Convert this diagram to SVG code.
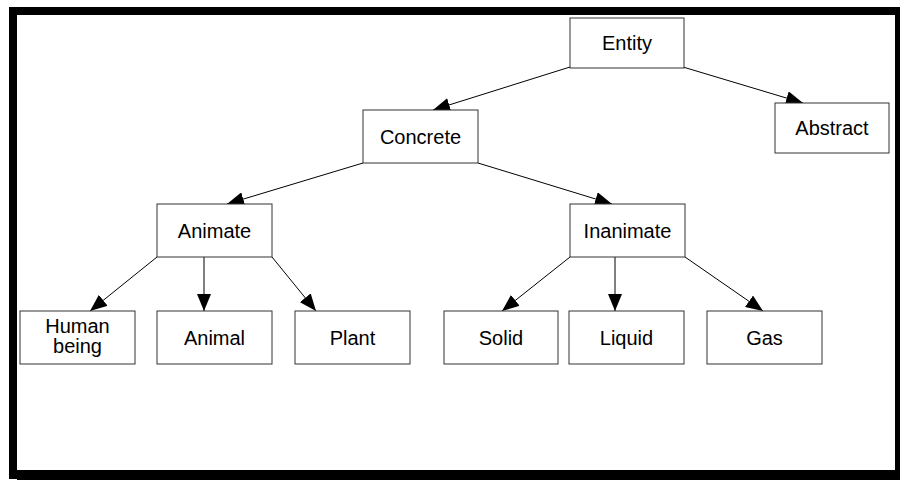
<svg xmlns="http://www.w3.org/2000/svg" width="900" height="480" viewBox="0 0 900 480">
<style>
.box{fill:#fff;stroke:#333;stroke-width:1}
.lbl{font-family:"Liberation Sans",Arial,sans-serif;font-size:20px;fill:#000;text-anchor:middle}
.conn{stroke:#000;stroke-width:1;fill:none;marker-end:url(#arr)}
</style>
<defs>
<marker id="arr" viewBox="0 0 17 14" refX="17" refY="7" markerWidth="17" markerHeight="14" markerUnits="userSpaceOnUse" orient="auto">
<path d="M0,0 L17,7 L0,14 Z" fill="#000"/>
</marker>
</defs>
<rect width="900" height="480" fill="#fff"/>
<g id="frame" fill="#000">
<rect x="9" y="7" width="891" height="8"/>
<rect x="9" y="7" width="8" height="472"/>
<rect x="895" y="7" width="5" height="473"/>
<rect x="17" y="470" width="883" height="10"/>
</g>
<g id="connectors">
<line class="conn" x1="570" y1="67" x2="433" y2="110"/>
<line class="conn" x1="683" y1="67" x2="803" y2="103"/>
<line class="conn" x1="363" y1="163" x2="227" y2="204"/>
<line class="conn" x1="478" y1="163" x2="612" y2="204"/>
<line class="conn" x1="157" y1="257" x2="90" y2="311"/>
<line class="conn" x1="204" y1="257" x2="204" y2="311"/>
<line class="conn" x1="272" y1="257" x2="316" y2="311"/>
<line class="conn" x1="570" y1="257" x2="502" y2="311"/>
<line class="conn" x1="615" y1="257" x2="615" y2="311"/>
<line class="conn" x1="685" y1="257" x2="763" y2="311"/>
</g>
<g id="entity"><rect class="box" x="570" y="18" width="114" height="50"/><text class="lbl" x="627" y="50">Entity</text></g>
<g id="abstract"><rect class="box" x="775" y="103" width="114" height="50"/><text class="lbl" x="832" y="135">Abstract</text></g>
<g id="concrete"><rect class="box" x="363" y="110" width="115" height="53"/><text class="lbl" x="420.5" y="143.5">Concrete</text></g>
<g id="animate"><rect class="box" x="157" y="204" width="115" height="53"/><text class="lbl" x="214.5" y="237.5">Animate</text></g>
<g id="inanimate"><rect class="box" x="570" y="204" width="115" height="53"/><text class="lbl" x="627.5" y="237.5">Inanimate</text></g>
<g id="human-being"><rect class="box" x="20" y="311" width="115" height="53"/><text class="lbl" x="77.5" y="333">Human</text><text class="lbl" x="77.5" y="353">being</text></g>
<g id="animal"><rect class="box" x="157" y="311" width="115" height="53"/><text class="lbl" x="214.5" y="344.5">Animal</text></g>
<g id="plant"><rect class="box" x="295" y="311" width="115" height="53"/><text class="lbl" x="352.5" y="344.5">Plant</text></g>
<g id="solid"><rect class="box" x="444" y="311" width="114" height="53"/><text class="lbl" x="501" y="344.5">Solid</text></g>
<g id="liquid"><rect class="box" x="569" y="311" width="115" height="53"/><text class="lbl" x="626.5" y="344.5">Liquid</text></g>
<g id="gas"><rect class="box" x="707" y="311" width="115" height="53"/><text class="lbl" x="764.5" y="344.5">Gas</text></g>
</svg>
